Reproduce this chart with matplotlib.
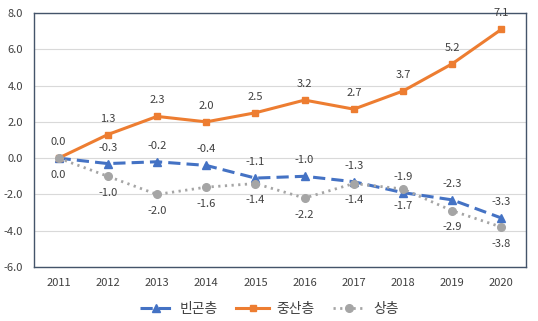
import matplotlib
matplotlib.use("Agg")
import matplotlib.pyplot as plt

plt.rcParams['font.family'] = ['Noto Sans CJK KR', 'DejaVu Sans']

years = ["2011", "2012", "2013", "2014", "2015", "2016", "2017", "2018", "2019", "2020"]
poor = [0.0, -0.3, -0.2, -0.4, -1.1, -1.0, -1.3, -1.9, -2.3, -3.3]
middle = [0.0, 1.3, 2.3, 2.0, 2.5, 3.2, 2.7, 3.7, 5.2, 7.1]
upper = [0.0, -1.0, -2.0, -1.6, -1.4, -2.2, -1.4, -1.7, -2.9, -3.8]
series_names = ["빈곤층", "중산층", "상층"]
yticks = [-6.0, -4.0, -2.0, 0.0, 2.0, 4.0, 6.0, 8.0]

BLUE = "#4472C4"
ORANGE = "#ED7D31"
GRAY = "#A5A5A5"
TXT = "#404040"

fig = plt.figure(figsize=(5.38, 3.21), dpi=100)
ax = fig.add_axes([34/538, 1-267/321, 492/538, 254/321])

x = list(range(len(years)))
ax.plot(x, poor, color=BLUE, lw=2.2, ls=(0, (4, 2)), marker="^", ms=5.5,
        label=series_names[0], zorder=3)
ax.plot(x, middle, color=ORANGE, lw=2.2, marker="s", ms=5,
        label=series_names[1], zorder=4)
ax.plot(x, upper, color=GRAY, lw=2.0, ls=(0, (0.8, 1.6)), marker="o", ms=5.5,
        label=series_names[2], zorder=5)

fs = 8
for i, v in enumerate(middle):
    ax.annotate(f"{v:.1f}", (i, v), xytext=(0, 11.5), textcoords="offset points",
                ha="center", va="center", fontsize=fs, color=TXT)
for i, v in enumerate(poor):
    if i == 0:
        continue
    ax.annotate(f"{v:.1f}", (i, v), xytext=(0, 11.5), textcoords="offset points",
                ha="center", va="center", fontsize=fs, color=TXT)
for i, v in enumerate(upper):
    ax.annotate(f"{v:.1f}", (i, v), xytext=(0, -12), textcoords="offset points",
                ha="center", va="center", fontsize=fs, color=TXT)

ax.set_xlim(-0.5, len(years) - 0.5)
ax.set_ylim(-6, 8)
ax.set_yticks(yticks)
ax.set_yticklabels([f"{t:.1f}" for t in yticks])
ax.set_xticks(x)
ax.set_xticklabels(years)
ax.tick_params(length=0, labelsize=fs, colors=TXT, pad=8)
ax.tick_params(axis="y", pad=8)
ax.grid(axis="y", color="#D9D9D9", lw=0.8)
ax.set_axisbelow(True)
for s in ax.spines.values():
    s.set_color("#44546A")
    s.set_linewidth(1.0)

leg = fig.legend(loc="center", bbox_to_anchor=(0.5, 1-309/321), ncol=3, frameon=False,
                 fontsize=10, handlelength=2.4, columnspacing=1.3, handletextpad=0.5)
for t in leg.get_texts():
    t.set_color(TXT)

fig.savefig("out.png", dpi=100)
